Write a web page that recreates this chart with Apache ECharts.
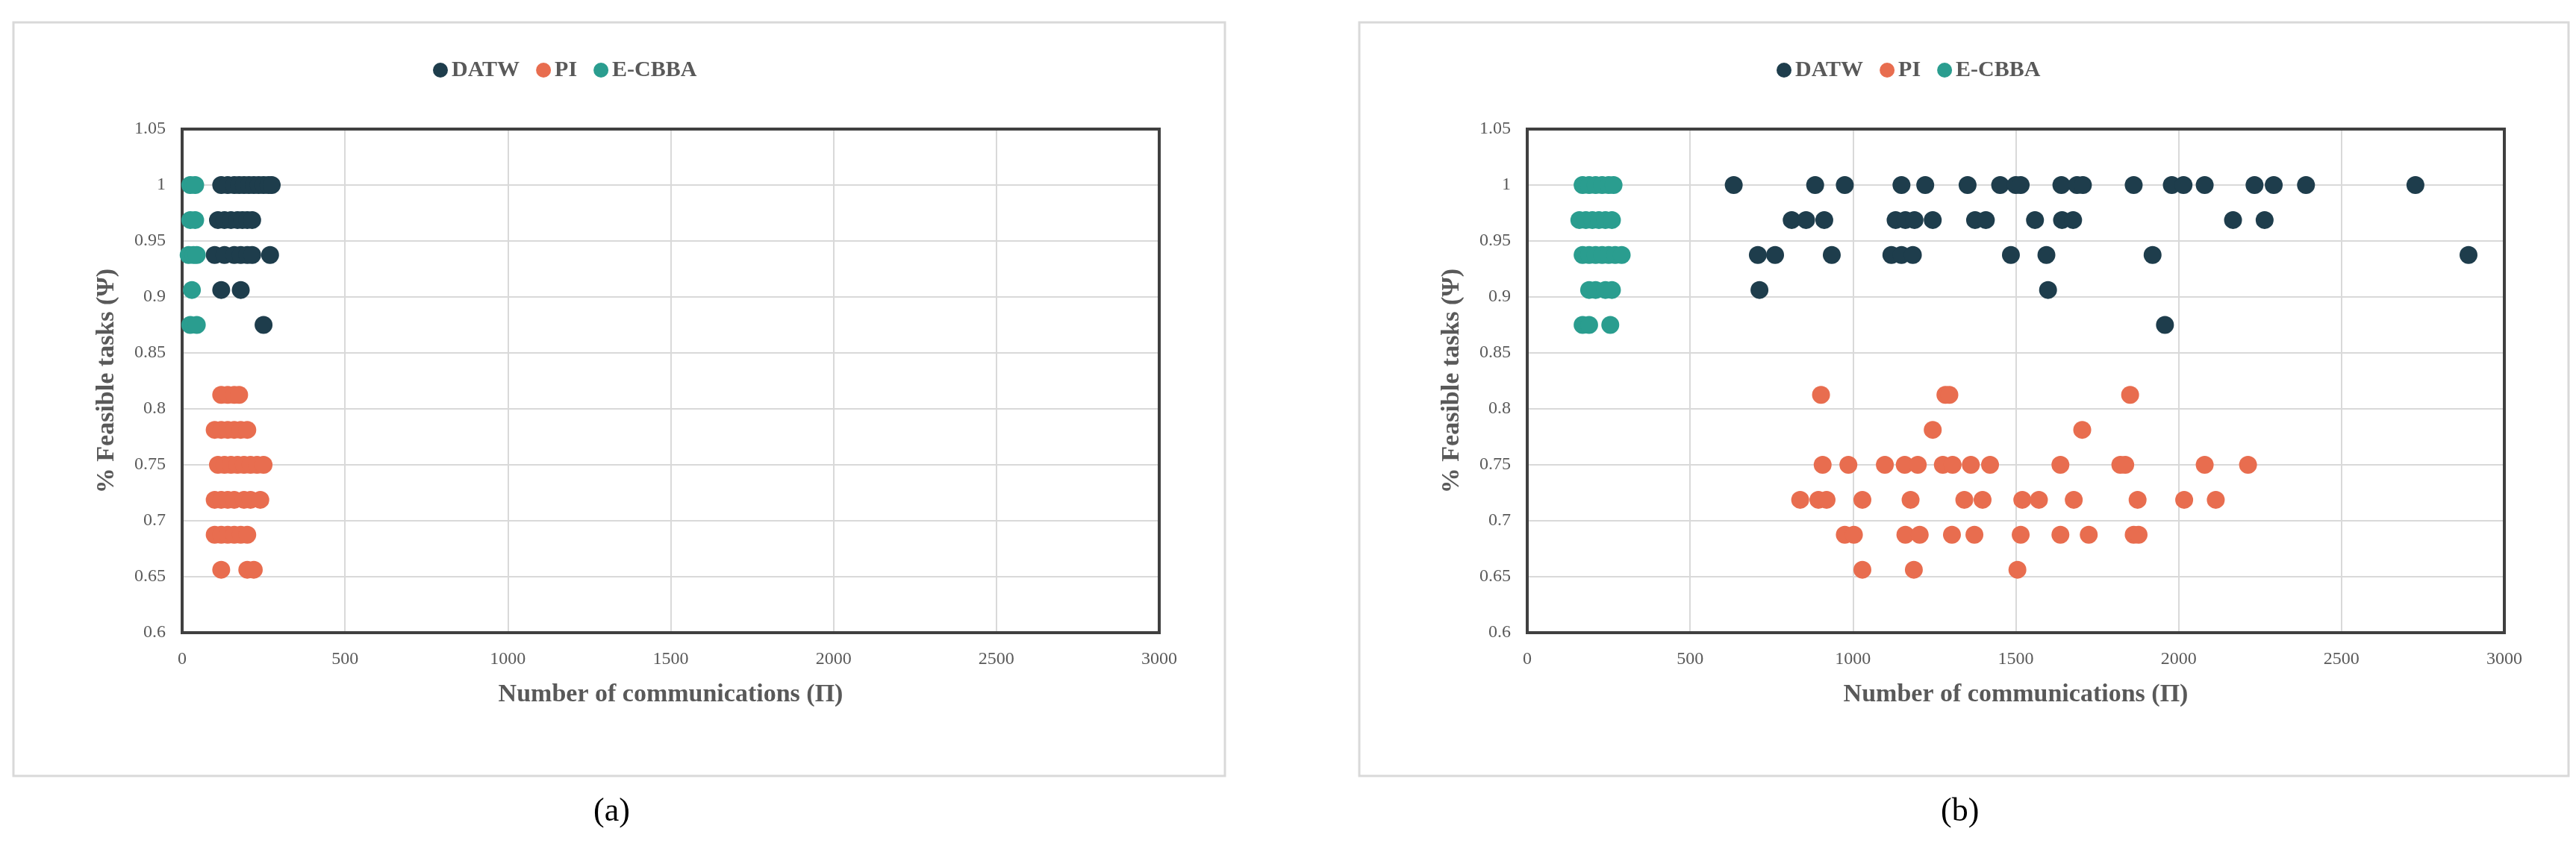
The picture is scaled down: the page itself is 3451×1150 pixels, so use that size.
<!DOCTYPE html>
<html><head><meta charset="utf-8">
<script src="https://cdn.jsdelivr.net/npm/echarts@6/dist/echarts.min.js"></script>
<style>html,body{margin:0;background:#fff}#main{width:3451px;height:1150px}</style>
</head><body><div id="main"></div>
<script>
const Y = [1, 0.96875, 0.9375, 0.90625, 0.875, 0.8125, 0.78125, 0.75, 0.71875, 0.6875, 0.65625];

// x values per y level, panel (a)
const datwA = [[120,140,160,175,190,205,220,235,250,265,275],[110,130,150,170,185,200,215],[100,130,160,180,200,215,270],[120,180],[250]];
const piA = [[120,140,160,175],[100,120,140,160,180,200],[110,130,150,170,190,210,230,250],[100,120,140,160,190,210,240],[100,120,140,160,180,200],[120,200,220]];
const cbbaA = [[25,40],[25,40],[20,35,45],[30],[25,45]];

// panel (b)
const datwB = [[634,884,975,1149,1222,1352,1452,1500,1515,1640,1688,1706,1862,1979,2015,2080,2233,2292,2391,2727],
  [812,856,912,1131,1161,1189,1245,1375,1408,1559,1642,1676,2167,2264],
  [708,761,935,1118,1149,1184,1485,1594,1920,2890],[713,1599],[1958]];
const piB = [[902,1284,1296,1851],[1245,1704],
  [907,986,1098,1159,1199,1276,1306,1362,1421,1637,1821,1836,2080,2213],
  [838,894,919,1029,1177,1342,1398,1520,1571,1678,1874,2017,2114],
  [975,1003,1161,1205,1304,1373,1515,1637,1724,1862,1877],[1029,1187,1505]];
const cbbaB = [[170,190,210,230,250,265],[160,180,200,220,240,260],[170,190,210,230,250,270,290],[190,210,240,260],[170,190,255]];

function pts(rows, ys) {
  const out = [];
  rows.forEach(function (r, i) { r.forEach(function (x) { out.push([x, ys[i]]); }); });
  return out;
}
const yD = Y.slice(0, 5), yP = Y.slice(5);
const colors = { DATW: '#1e3d4c', PI: '#e86d4f', 'E-CBBA': '#2a9d8f' };
const font = 'Liberation Serif';

const plots = [[244, 173, 1553, 848], [2046, 173, 3355, 848]];

function axes(i) {
  return {
    x: { type: 'value', gridIndex: i, min: 0, max: 3000, interval: 500,
      name: 'Number of communications (\u03A0)', nameLocation: 'middle', nameGap: 66,
      nameTextStyle: { fontFamily: font, fontWeight: 'bold', fontSize: 34, color: '#595959' },
      axisLine: { show: false }, axisTick: { show: false },
      axisLabel: { fontFamily: font, fontSize: 24, color: '#595959', margin: 24,
        formatter: function (v) { return String(v); } },
      splitLine: { lineStyle: { color: '#d9d9d9', width: 2 } } },
    y: { type: 'value', gridIndex: i, min: 0.6, max: 1.05, interval: 0.05,
      name: '% Feasible tasks (\u03A8)', nameLocation: 'middle', nameGap: 84,
      nameTextStyle: { fontFamily: font, fontWeight: 'bold', fontSize: 34, color: '#595959', letterSpacing: 2 },
      axisLine: { show: false }, axisTick: { show: false },
      axisLabel: { fontFamily: font, fontSize: 24, color: '#595959', margin: 22,
        formatter: function (v) { return String(+v.toFixed(2)); } },
      splitLine: { lineStyle: { color: '#d9d9d9', width: 2 } } }
  };
}
const a0 = axes(0), a1 = axes(1);

function s(name, data, i) {
  return { name: name, type: 'scatter', xAxisIndex: i, yAxisIndex: i, data: data,
    symbolSize: 24, z: 5, itemStyle: { color: colors[name], opacity: 1 } };
}

const legendCommon = { top: 74, itemWidth: 20, itemHeight: 26, itemGap: 22, icon: 'circle',
  textStyle: { fontFamily: font, fontWeight: 'bold', fontSize: 30, color: '#595959' },
  data: ['DATW', 'PI', 'E-CBBA'] };

const chart = echarts.init(document.getElementById('main'));
chart.setOption({
  backgroundColor: '#fff',
  animation: false,
  grid: plots.map(function (p) { return { left: p[0], top: p[1], right: 3451 - p[2], bottom: 1150 - p[3] }; }),
  xAxis: [a0.x, a1.x],
  yAxis: [a0.y, a1.y],
  legend: [Object.assign({ left: 575 }, legendCommon), Object.assign({ left: 2375 }, legendCommon)],
  series: [
    s('DATW', pts(datwA, yD), 0), s('PI', pts(piA, yP), 0), s('E-CBBA', pts(cbbaA, yD), 0),
    s('DATW', pts(datwB, yD), 1), s('PI', pts(piB, yP), 1), s('E-CBBA', pts(cbbaB, yD), 1)
  ],
  graphic: [
    { type: 'rect', shape: { x: 18, y: 30, width: 1623, height: 1010 }, style: { fill: 'none', stroke: '#d9d9d9', lineWidth: 3 }, z: -1 },
    { type: 'rect', shape: { x: 1821, y: 30, width: 1620, height: 1010 }, style: { fill: 'none', stroke: '#d9d9d9', lineWidth: 3 }, z: -1 }
  ].concat(plots.map(function (p) {
    return { type: 'rect', shape: { x: p[0], y: p[1], width: p[2] - p[0], height: p[3] - p[1] },
      style: { fill: 'none', stroke: '#404040', lineWidth: 4 }, z: 3 };
  })).concat([
    { type: 'text', left: 795, top: 1066, style: { text: '(a)', font: '44px "Liberation Serif"', fill: '#000' } },
    { type: 'text', left: 2600, top: 1066, style: { text: '(b)', font: '44px "Liberation Serif"', fill: '#000' } }
  ])
});
</script></body></html>
